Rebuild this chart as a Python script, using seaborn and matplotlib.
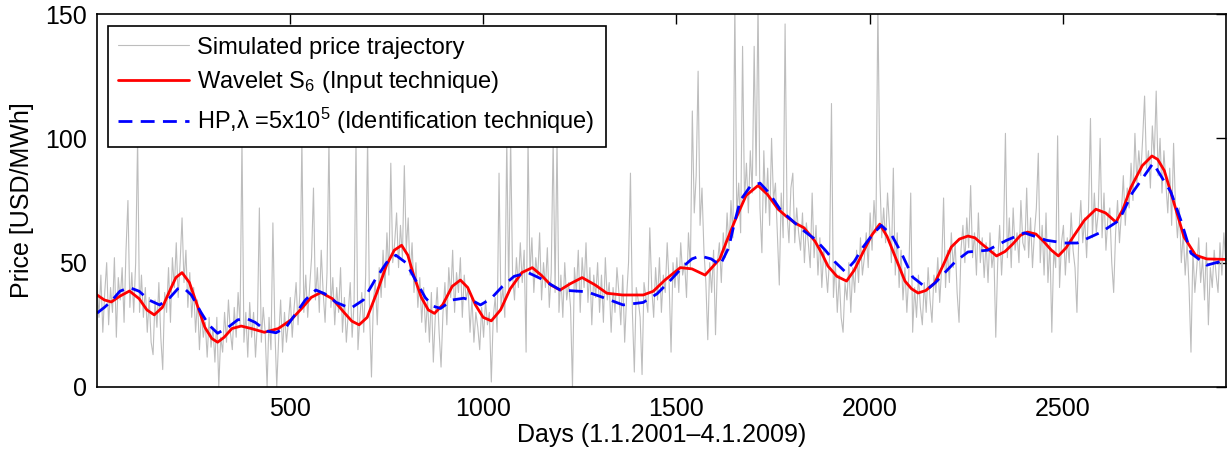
import numpy as np
import pandas as pd
import matplotlib
matplotlib.use("Agg")
import matplotlib.pyplot as plt
import seaborn as sns

# simulated price, every 5 days (day 1, 6, 11, ...)
price_step = 5
price = [
    42, 28, 45, 22, 38, 50, 25, 40, 30, 52, 20, 44, 35, 48, 26, 55, 75, 32, 46, 30,
    50, 100, 30, 45, 28, 40, 22, 36, 18, 13, 35, 24, 42, 20, 7, 38, 30, 48, 26, 52,
    40, 58, 36, 50, 68, 42, 55, 32, 46, 28, 40, 22, 35, 15, 30, 20, 26, 12, 28, 16,
    24, 10, 28, 0, 20, 14, 30, 18, 35, 22, 15, 32, 20, 38, 25, 100, 18, 30, 12, 34,
    20, 30, 12, 26, 72, 18, 32, 22, 0, 28, 15, 66, 24, 0, 20, 35, 14, 30, 18, 26,
    36, 20, 32, 42, 25, 38, 100, 30, 45, 28, 40, 52, 80, 35, 48, 30, 55, 38, 26, 46,
    100, 32, 44, 25, 40, 30, 48, 22, 36, 18, 30, 42, 20, 34, 100, 15, 28, 38, 22, 45,
    100, 30, 4, 35, 42, 25, 48, 36, 55, 40, 62, 45, 90, 50, 58, 70, 48, 65, 52, 89,
    55, 68, 45, 58, 38, 50, 32, 44, 26, 40, 22, 35, 18, 38, 10, 28, 40, 22, 8, 30,
    42, 25, 48, 36, 55, 30, 46, 38, 52, 28, 45, 35, 40, 22, 36, 18, 30, 24, 15, 32,
    20, 35, 25, 30, 2, 28, 36, 22, 86, 32, 40, 28, 100, 38, 100, 45, 35, 52, 40, 58,
    42, 55, 14, 100, 45, 60, 38, 52, 44, 62, 35, 50, 40, 56, 32, 46, 100, 38, 100, 30,
    45, 28, 50, 35, 42, 32, 0, 48, 38, 55, 30, 52, 40, 58, 34, 48, 25, 45, 36, 50,
    30, 45, 26, 52, 35, 42, 22, 40, 30, 48, 38, 25, 45, 18, 36, 50, 86, 30, 6, 40,
    35, 28, 5, 42, 36, 30, 64, 40, 28, 48, 35, 52, 30, 45, 38, 58, 42, 14, 50, 40,
    52, 38, 58, 45, 50, 36, 62, 48, 111, 70, 85, 127, 65, 80, 55, 42, 19, 50, 38, 55,
    21, 50, 58, 42, 62, 52, 70, 55, 75, 60, 155, 68, 82, 62, 137, 75, 90, 70, 95, 78,
    137, 85, 155, 72, 54, 95, 70, 88, 65, 100, 75, 82, 62, 41, 78, 60, 146, 70, 58, 80,
    86, 58, 72, 62, 55, 70, 50, 66, 58, 48, 78, 52, 65, 45, 60, 40, 55, 48, 38, 52,
    114, 36, 50, 30, 45, 28, 22, 42, 35, 50, 30, 48, 38, 55, 42, 60, 45, 52, 62, 48,
    70, 55, 75, 62, 155, 85, 60, 72, 58, 78, 65, 50, 88, 45, 62, 40, 55, 35, 48, 30,
    45, 78, 22, 40, 28, 45, 32, 25, 42, 30, 48, 35, 26, 45, 38, 52, 34, 48, 76, 40,
    55, 42, 62, 48, 58, 38, 26, 55, 65, 50, 68, 56, 81, 52, 62, 45, 70, 50, 60, 44,
    58, 42, 62, 48, 55, 20, 50, 65, 45, 60, 102, 52, 68, 48, 72, 55, 62, 50, 75, 58,
    55, 80, 52, 68, 48, 62, 72, 94, 50, 65, 45, 70, 42, 58, 22, 55, 48, 101, 40, 58,
    65, 45, 60, 50, 70, 55, 48, 30, 62, 75, 58, 68, 52, 72, 108, 60, 78, 62, 70, 100,
    60, 78, 55, 68, 72, 50, 38, 62, 75, 58, 70, 85, 65, 80, 72, 90, 75, 102, 82, 95,
    85, 100, 117, 88, 95, 80, 105, 92, 119, 85, 100, 78, 95, 82, 70, 88, 65, 98, 72, 60,
    72, 50, 62, 45, 58, 40, 14, 55, 38, 48, 60, 42, 52, 35, 58, 25, 48, 40, 55, 45,
    38, 58, 45, 62, 50,
]
price_days = np.arange(len(price)) * price_step + 1

# wavelet S6 (input technique)
wav_days = [1, 20, 38, 60, 85, 110, 130, 149, 170, 190, 205, 221, 240, 260, 280,
            298, 313, 330, 350, 374, 400, 434, 470, 503, 530, 555, 580, 610, 640,
            660, 679, 700, 725, 750, 770, 789, 805, 820, 840, 858, 874, 895, 920,
            941, 960, 980, 1000, 1021, 1045, 1070, 1100, 1127, 1150, 1175, 1199,
            1225, 1256, 1290, 1320, 1360, 1414, 1440, 1470, 1510, 1540, 1574, 1612,
            1630, 1651, 1680, 1711, 1735, 1763, 1785, 1806, 1830, 1858, 1875, 1892,
            1915, 1940, 1960, 1983, 2005, 2026, 2045, 2065, 2091, 2108, 2125, 2145,
            2168, 2190, 2211, 2232, 2254, 2272, 2290, 2310, 2328, 2350, 2370, 2390,
            2408, 2430, 2450, 2470, 2488, 2508, 2529, 2555, 2585, 2610, 2637, 2655,
            2676, 2705, 2730, 2745, 2762, 2787, 2813, 2843, 2872, 2922]
wav_vals = [37, 35, 34.2, 36.5, 38.6, 35.5, 31, 29, 32, 39, 44, 46, 42, 33, 24,
            19.5, 18, 20, 23.5, 24.5, 23.5, 22, 23.5, 27, 31.5, 36, 38, 35.5, 30,
            26.5, 25, 28, 38, 49, 55, 57, 53, 45, 36, 31, 29.6, 33, 40.5,
            43, 40, 33, 28, 26.6, 31, 39.5, 46, 48, 45, 41, 39,
            41.5, 44, 41, 37.7, 37, 37, 38.5, 43, 48, 47.5, 45, 51.5,
            58.7, 66.8, 77, 81, 77.5, 71.5, 68.5, 66, 64, 58.7, 54, 48.6,
            44.5, 42.6, 47, 54.3, 61, 65.5, 60.5, 52.7, 42.6, 39.5, 37.8, 38.8,
            41.8, 49, 56.3, 59.5, 60.7, 60, 57.5, 55, 52.7, 54.5, 57.5, 61,
            62.3, 61.5, 58.5, 55, 52.7, 56, 61, 67, 71.5, 70, 66.3, 71.5,
            80.4, 89, 92.9, 91.5, 87, 74, 60.3, 53, 51.5, 51.3]

# HP filter, lambda = 5e5 (identification technique)
hp_days = [1, 20, 38, 60, 85, 110, 135, 163, 190, 210, 224, 245, 270, 290, 313,
           340, 365, 387, 410, 440, 464, 490, 515, 540, 567, 590, 620, 657, 690,
           720, 750, 774, 800, 825, 850, 870, 890, 920, 950, 975, 993, 1020, 1050,
           1080, 1116, 1150, 1199, 1268, 1310, 1362, 1414, 1450, 1485, 1517, 1540,
           1561, 1590, 1613, 1635, 1650, 1665, 1690, 1716, 1740, 1770, 1806, 1832,
           1858, 1885, 1910, 1936, 1960, 1983, 2008, 2030, 2057, 2083, 2111, 2150,
           2170, 2193, 2222, 2254, 2305, 2354, 2400, 2457, 2504, 2537, 2599, 2645,
           2679, 2733, 2779, 2805, 2831, 2872, 2903, 2922]
hp_vals = [29.7, 32, 34.5, 38.5, 40, 38.5, 35, 33, 36, 39.5, 40, 37, 30, 25, 21.6,
           24, 27, 27.6, 26, 22.5, 21.8, 24, 29.5, 35, 39, 37.5, 34, 31.6, 35,
           43, 50, 53, 50, 43, 36, 32.5, 31.6, 35, 35.7, 34.5, 33, 35.5, 40.5,
           44.5, 46, 43.5, 39, 38.3, 36, 33, 34, 37.5, 43, 48.4, 51.5,
           52.7, 51.5, 49, 56, 66, 75, 80.5, 82, 78, 71, 66, 62.5,
           59.5, 55, 50.3, 46.4, 50.5, 56.3, 61.5, 65, 61, 53.5, 44.2, 39.4,
           42, 45.8, 50.5, 54.3, 55, 59, 62, 59, 57.9, 57.9, 62.3, 67,
           78, 90, 78.4, 67, 53.8, 49, 50.3, 51.5]

sns.set_style("white")
plt.rcParams['font.family'] = ['Liberation Sans', 'DejaVu Sans']
plt.rcParams['mathtext.fontset'] = 'custom'
plt.rcParams['mathtext.rm'] = 'Liberation Sans'
plt.rcParams['mathtext.it'] = 'Liberation Sans:italic'
plt.rcParams['text.color'] = 'black'
plt.rcParams['axes.labelcolor'] = 'black'

fig = plt.figure(figsize=(12.28, 4.55), dpi=100)
ax = fig.add_axes([0.079, 0.1495, 0.9195, 0.8197])

sns.lineplot(x=price_days, y=price, ax=ax, color='#bdbdbd', linewidth=0.8,
             label='Simulated price trajectory')
sns.lineplot(x=wav_days, y=wav_vals, ax=ax, color='#ff0000', linewidth=2.0,
             label='Wavelet S$_6$ (Input technique)')
sns.lineplot(x=hp_days, y=hp_vals, ax=ax, color='#0000ff', linewidth=2.0,
             linestyle=(0, (5, 3)),
             label='HP,\u03bb =5x10$^5$ (Identification technique)')

ax.set_xlim(1, 2922)
ax.set_ylim(0, 150)
ax.set_xticks([500, 1000, 1500, 2000, 2500])
ax.set_yticks([0, 50, 100, 150])
ax.tick_params(direction='in', length=7, width=1, top=True, right=True,
               labelsize=18, colors='black', pad=7)
for s in ax.spines.values():
    s.set_color('black')
    s.set_linewidth(1.2)

ax.set_xlabel('Days (1.1.2001\u20134.1.2009)', fontsize=18, labelpad=2)
ax.set_ylabel('Price [USD/MWh]', fontsize=18, labelpad=8)

leg = ax.legend(loc='upper left', bbox_to_anchor=(0.0095, 0.968), fontsize=17,
                frameon=True, fancybox=False, framealpha=1, edgecolor='black',
                borderpad=0.45, labelspacing=0.45, handlelength=3.0,
                handletextpad=0.35, borderaxespad=0)
leg.get_frame().set_linewidth(1.2)

fig.savefig('out.png', dpi=100)
